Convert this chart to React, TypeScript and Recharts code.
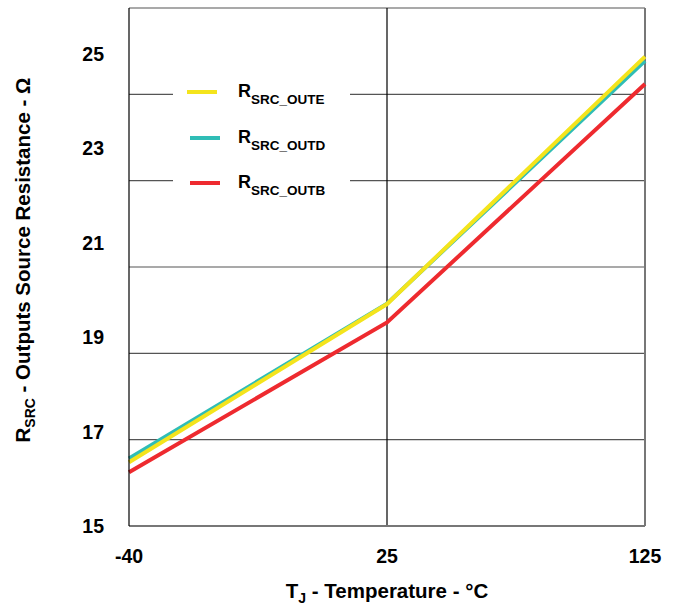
import React from "react";
import { LineChart, Line, XAxis, YAxis, CartesianGrid, ReferenceLine, Legend, Label } from "recharts";

// ---- data ----
const temperatures = ["-40", "25", "125"];
const rSrcOutE = [16.35, 19.7, 24.94];
const rSrcOutD = [16.43, 19.71, 24.85];
const rSrcOutB = [16.14, 19.31, 24.36];
const yTickValues = [15, 17, 19, 21, 23, 25];
const gridDivisions = [0, 1, 2, 3, 4, 5, 6];
const seriesSubs = { outE: "SRC_OUTE", outD: "SRC_OUTD", outB: "SRC_OUTB" };
const legendOrder = ["outE", "outD", "outB"];

const data = temperatures.map((t, i) => ({
  t,
  outE: rSrcOutE[i],
  outD: rSrcOutD[i],
  outB: rSrcOutB[i],
}));

const COLORS: Record<string, string> = { outE: "#F4E41C", outD: "#2FBDB6", outB: "#EE2A2F" };
const FONT = "'Liberation Sans', Arial, Helvetica, sans-serif";

const YTick = (props: any) => {
  const { y, payload } = props;
  return (
    <text x={104} y={y} dy="0.36em" textAnchor="end" fontFamily={FONT} fontWeight="bold" fontSize={19.5} fill="#000">
      {payload.value}
    </text>
  );
};

const XTick = (props: any) => {
  const { x, payload } = props;
  return (
    <text x={x} y={556} dy="0.36em" textAnchor="middle" fontFamily={FONT} fontWeight="bold" fontSize={19.5} fill="#000">
      {payload.value}
    </text>
  );
};

const LegendContent = (props: any) => {
  const payload = props.payload || [];
  const items = legendOrder
    .map((k) => payload.find((p: any) => p.dataKey === k))
    .filter(Boolean);
  return (
    <div style={{ position: "relative", width: 177, height: 145, background: "#fff" }}>
      {items.map((p: any, i: number) => (
        <div
          key={p.dataKey}
          style={{
            position: "absolute",
            left: 0,
            top: 32 + i * 45.5 - 15,
            height: 30,
            display: "flex",
            alignItems: "center",
          }}
        >
          <div style={{ marginLeft: i === 0 ? 14 : 17, width: 30, height: 4, background: COLORS[p.dataKey] }} />
          <div
            style={{
              marginLeft: i === 0 ? 21 : 18,
              fontFamily: FONT,
              fontWeight: "bold",
              fontSize: 18,
              color: "#000",
              lineHeight: "30px",
              whiteSpace: "nowrap",
            }}
          >
            R
            <span style={{ fontSize: 13.5, position: "relative", top: 7 }}>{seriesSubs[p.dataKey as keyof typeof seriesSubs]}</span>
          </div>
        </div>
      ))}
    </div>
  );
};

export default function App() {
  return (
    <div style={{ position: "absolute", left: 0, top: 0, width: 677, height: 608, background: "#fff" }}>
      <LineChart width={677} height={608} data={data} margin={{ top: 8, right: 32, bottom: 52, left: 0 }}>
        <CartesianGrid
          horizontal={true}
          vertical={false}
          stroke="#555"
          strokeWidth={1.2}
          horizontalCoordinatesGenerator={({ offset }: any) =>
            gridDivisions.map((d) => offset.top + (offset.height * d) / (gridDivisions.length - 1))
          }
        />
        <XAxis
          dataKey="t"
          type="category"
          height={30}
          tick={<XTick />}
          tickLine={false}
          axisLine={{ stroke: "#777", strokeWidth: 2 }}
          interval={0}
        >
          <Label
            content={(p: any) => {
              const vb = p.viewBox || {};
              const cx = vb.x + vb.width / 2;
              return (
                <text x={cx} y={598} textAnchor="middle" fontFamily={FONT} fontWeight="bold" fontSize={20.5} fill="#000">
                  T<tspan fontSize={14} dy={5}>J</tspan>
                  <tspan dy={-5}> - Temperature - °C</tspan>
                </text>
              );
            }}
          />
        </XAxis>
        <YAxis
          type="number"
          domain={[15, 25.97]}
          ticks={yTickValues}
          allowDataOverflow
          width={129}
          tick={<YTick />}
          tickLine={false}
          axisLine={{ stroke: "#000", strokeWidth: 1.2 }}
        >
          <Label
            content={() => (
              <text
                transform="translate(30,260) rotate(-90)"
                x={0}
                y={0}
                textAnchor="middle"
                fontFamily={FONT}
                fontWeight="bold"
                fontSize={20.5}
                fill="#000"
              >
                R<tspan fontSize={14} dy={5}>SRC</tspan>
                <tspan dy={-5}> - Outputs Source Resistance - Ω</tspan>
              </text>
            )}
          />
        </YAxis>
        <ReferenceLine x="25" stroke="#000" strokeWidth={1.2} />
        <ReferenceLine x="125" stroke="#777" strokeWidth={2} />
        <Line type="linear" dataKey="outB" name="RSRC_OUTB" stroke={COLORS.outB} strokeWidth={4} dot={false} isAnimationActive={false} />
        <Line type="linear" dataKey="outD" name="RSRC_OUTD" stroke={COLORS.outD} strokeWidth={4} dot={false} isAnimationActive={false} />
        <Line type="linear" dataKey="outE" name="RSRC_OUTE" stroke={COLORS.outE} strokeWidth={4} dot={false} isAnimationActive={false} />
        <Legend
          layout="vertical"
          align="center"
          verticalAlign="middle"
          content={<LegendContent />}
          wrapperStyle={{ left: 173, top: 60, width: 177, height: 145 }}
        />
      </LineChart>
    </div>
  );
}
